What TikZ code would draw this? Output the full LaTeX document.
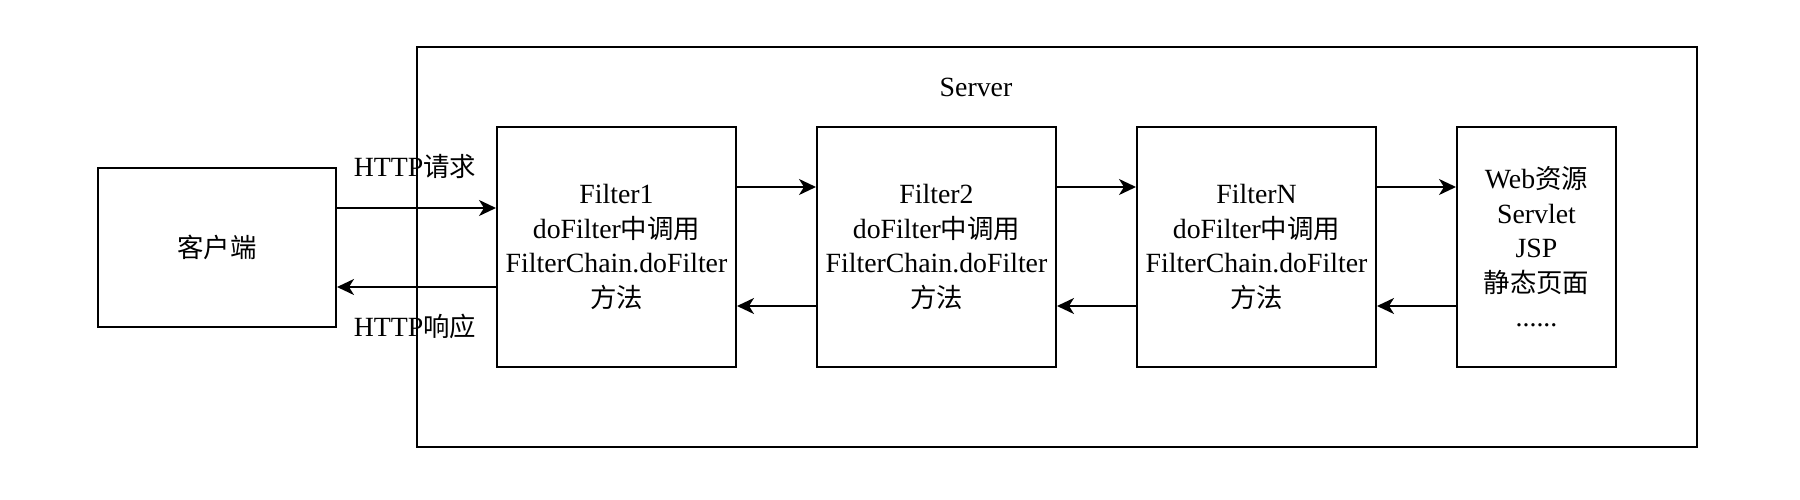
\documentclass[tikz,border=0pt]{standalone}
\usepackage{fontspec}
\setmainfont{Liberation Serif}
\newfontfamily\cjk[Scale=0.95]{Noto Sans CJK SC}
\usetikzlibrary{arrows.meta,calc}
\tikzset{
  box/.style={draw=black, line width=2pt, fill=white, align=center, inner sep=0pt,
    font=\fontsize{27.8}{34.5}\selectfont},
  arr/.style={line width=2pt, -{Stealth[length=17pt,width=16pt,inset=5pt]}},
  lbl/.style={font=\fontsize{27.8}{34.5}\selectfont, inner sep=0pt}
}
\begin{document}
\begin{tikzpicture}[x=1pt,y=-1pt]
\useasboundingbox (0,0) rectangle (1800,500);
\node[box, minimum width=1280pt, minimum height=400pt] (server) at (1057,247) {};
\node[lbl] (srvlbl) at (976,87) {Server};
\node[box, minimum width=238pt, minimum height=159pt] (client) at (217,247.5) {{\cjk 客户端}};
\node[box, minimum width=239pt, minimum height=240pt] (f1) at (616.5,247) {Filter1\\doFilter{\cjk 中调用}\\FilterChain.doFilter\\{\cjk 方法}};
\node[box, minimum width=239pt, minimum height=240pt] (f2) at (936.5,247) {Filter2\\doFilter{\cjk 中调用}\\FilterChain.doFilter\\{\cjk 方法}};
\node[box, minimum width=239pt, minimum height=240pt] (fn) at (1256.5,247) {FilterN\\doFilter{\cjk 中调用}\\FilterChain.doFilter\\{\cjk 方法}};
\node[box, minimum width=159pt, minimum height=240pt] (web) at (1536.5,247) {Web{\cjk 资源}\\Servlet\\JSP\\{\cjk 静态页面}\\......};
% client arrows
\draw[arr] ($(client.east)+(0,-39.5)$) -- ($(f1.west)+(0,-39)$);
\draw[arr] ($(f1.west)+(0,40)$) -- ($(client.east)+(0,39.5)$);
\node[lbl] (req) at (415,166) {HTTP{\cjk 请求}};
\node[lbl] (resp) at (415,326) {HTTP{\cjk 响应}};
% filter chain arrows
\draw[arr] ($(f1.east)+(0,-60)$) -- ($(f2.west)+(0,-60)$);
\draw[arr] ($(f2.east)+(0,-60)$) -- ($(fn.west)+(0,-60)$);
\draw[arr] ($(fn.east)+(0,-60)$) -- ($(web.west)+(0,-60)$);
\draw[arr] ($(f2.west)+(0,59)$) -- ($(f1.east)+(0,59)$);
\draw[arr] ($(fn.west)+(0,59)$) -- ($(f2.east)+(0,59)$);
\draw[arr] ($(web.west)+(0,59)$) -- ($(fn.east)+(0,59)$);
\end{tikzpicture}
\end{document}
